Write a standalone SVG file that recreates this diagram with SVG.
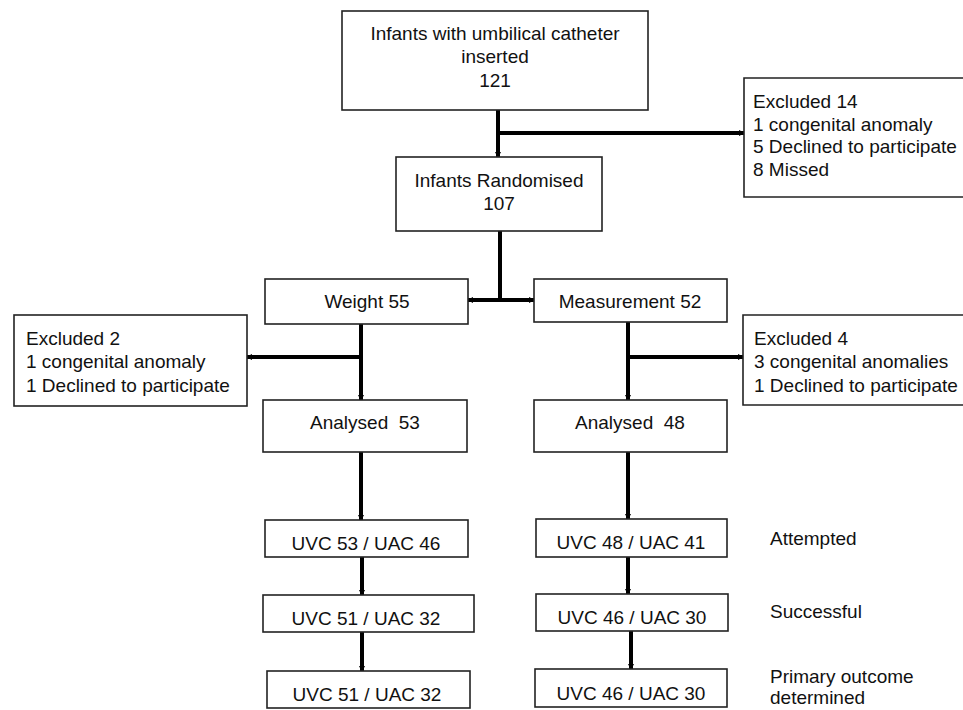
<svg xmlns="http://www.w3.org/2000/svg" width="963" height="710" viewBox="0 0 963 710">
<defs>
<style>
.box{fill:#fff;stroke:#222;stroke-width:1.6}
.t{font-family:"Liberation Sans",Arial,sans-serif;font-size:19px;fill:#111}
.c{text-anchor:middle}
.ln{stroke:#000;stroke-width:4;fill:none}
.ar{marker-end:url(#ah)}
</style>
<marker id="ah" viewBox="0 0 6 6" refX="5" refY="3" markerWidth="6" markerHeight="6" markerUnits="userSpaceOnUse" orient="auto">
<path d="M0,0 L6,3 L0,6 z" fill="#000"/>
</marker>
</defs>
<rect width="963" height="710" fill="#fff"/>
<g id="connectors">
<line class="ln ar" x1="498" y1="110" x2="498" y2="157"/>
<line class="ln ar" x1="498" y1="133" x2="744" y2="133"/>
<line class="ln" x1="500" y1="231" x2="500" y2="300"/>
<line class="ln ar" x1="500" y1="300" x2="468" y2="300"/>
<line class="ln ar" x1="500" y1="300" x2="534" y2="300"/>
<line class="ln ar" x1="361" y1="324" x2="361" y2="400"/>
<line class="ln ar" x1="361" y1="357" x2="247" y2="357"/>
<line class="ln ar" x1="628" y1="322" x2="628" y2="400"/>
<line class="ln ar" x1="628" y1="357" x2="743" y2="357"/>
<line class="ln ar" x1="361" y1="452" x2="361" y2="520"/>
<line class="ln ar" x1="628" y1="452" x2="628" y2="519"/>
<line class="ln ar" x1="362" y1="557" x2="362" y2="595"/>
<line class="ln ar" x1="628" y1="557" x2="628" y2="594"/>
<line class="ln ar" x1="362" y1="632" x2="362" y2="671"/>
<line class="ln ar" x1="631" y1="631" x2="631" y2="669"/>
</g>
<g id="n-inserted">
<rect class="box" x="342" y="11" width="306" height="99"/>
<text class="t c" x="495" y="40">Infants with umbilical catheter</text>
<text class="t c" x="495" y="63">inserted</text>
<text class="t c" x="495" y="87">121</text>
</g>
<g id="n-excl14">
<path class="box" d="M965,78 H744 V197 H965"/>
<text class="t" x="753" y="108">Excluded 14</text>
<text class="t" x="753" y="131">1 congenital anomaly</text>
<text class="t" x="753" y="153">5 Declined to participate</text>
<text class="t" x="753" y="176">8 Missed</text>
</g>
<g id="n-random">
<rect class="box" x="396" y="157" width="206" height="74"/>
<text class="t c" x="499" y="187">Infants Randomised</text>
<text class="t c" x="499" y="210">107</text>
</g>
<g id="n-weight">
<rect class="box" x="265" y="279" width="203" height="45"/>
<text class="t c" x="367" y="308">Weight 55</text>
</g>
<g id="n-measure">
<rect class="box" x="534" y="279" width="193" height="43"/>
<text class="t c" x="630" y="308">Measurement 52</text>
</g>
<g id="n-excl2">
<rect class="box" x="14" y="315" width="233" height="91"/>
<text class="t" x="26" y="345">Excluded 2</text>
<text class="t" x="26" y="368">1 congenital anomaly</text>
<text class="t" x="26" y="392">1 Declined to participate</text>
</g>
<g id="n-excl4">
<path class="box" d="M965,315 H743 V405 H965"/>
<text class="t" x="754" y="345">Excluded 4</text>
<text class="t" x="754" y="368">3 congenital anomalies</text>
<text class="t" x="754" y="392">1 Declined to participate</text>
</g>
<g id="n-an53">
<rect class="box" x="263" y="400" width="204" height="52"/>
<text class="t c" x="365" y="429" xml:space="preserve">Analysed  53</text>
</g>
<g id="n-an48">
<rect class="box" x="534" y="400" width="193" height="52"/>
<text class="t c" x="630" y="429" xml:space="preserve">Analysed  48</text>
</g>
<g id="n-w-att">
<rect class="box" x="265" y="520" width="203" height="37"/>
<text class="t c" x="366" y="550">UVC 53 / UAC 46</text>
</g>
<g id="n-w-suc">
<rect class="box" x="263" y="595" width="211" height="37"/>
<text class="t c" x="366" y="625">UVC 51 / UAC 32</text>
</g>
<g id="n-w-prim">
<rect class="box" x="267" y="671" width="203" height="37"/>
<text class="t c" x="367" y="701">UVC 51 / UAC 32</text>
</g>
<g id="n-m-att">
<rect class="box" x="536" y="519" width="191" height="38"/>
<text class="t c" x="631" y="549">UVC 48 / UAC 41</text>
</g>
<g id="n-m-suc">
<rect class="box" x="536" y="594" width="192" height="37"/>
<text class="t c" x="632" y="624">UVC 46 / UAC 30</text>
</g>
<g id="n-m-prim">
<rect class="box" x="535" y="669" width="192" height="38"/>
<text class="t c" x="631" y="700">UVC 46 / UAC 30</text>
</g>
<g id="labels">
<text class="t" x="770" y="545">Attempted</text>
<text class="t" x="770" y="618">Successful</text>
<text class="t" x="770" y="683">Primary outcome</text>
<text class="t" x="770" y="704">determined</text>
</g>
</svg>
